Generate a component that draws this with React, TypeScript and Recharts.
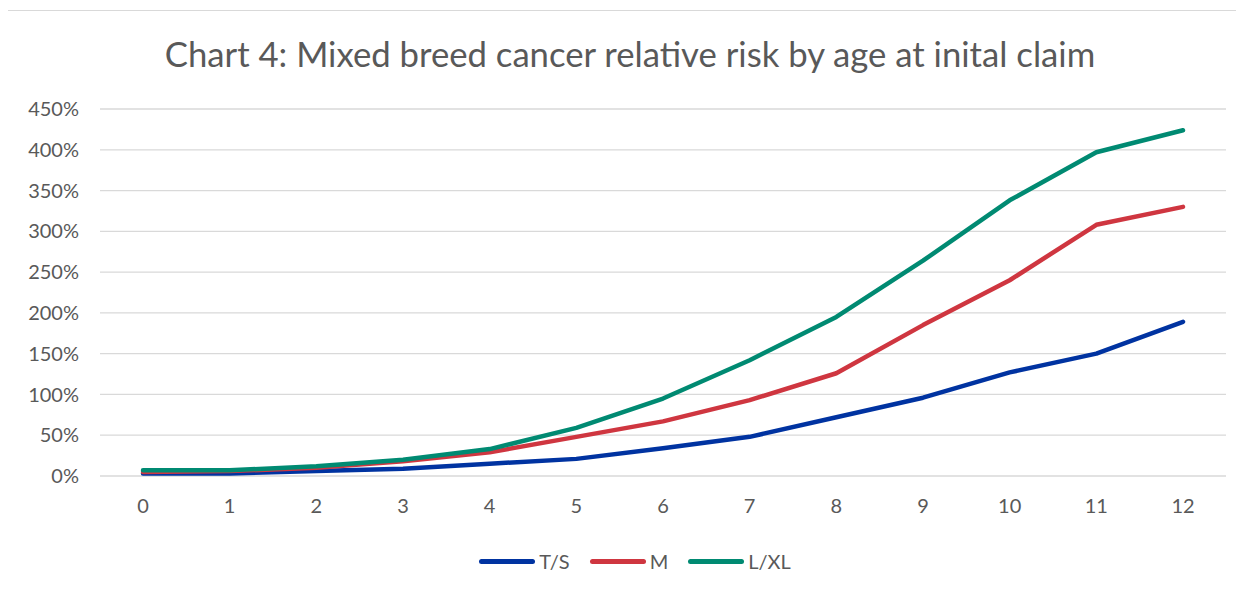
import React from "react";
import {
  LineChart,
  Line,
  XAxis,
  YAxis,
  CartesianGrid,
  Legend,
} from "recharts";

const ages = [0, 1, 2, 3, 4, 5, 6, 7, 8, 9, 10, 11, 12];
const toySmall = [3, 3, 6, 9, 15, 21, 34, 48, 72, 96, 127, 150, 189];
const medium = [5, 6, 10, 18, 29, 48, 67, 93, 126, 185, 240, 308, 330];
const largeXL = [7, 7, 12, 20, 33, 59, 95, 142, 195, 264, 338, 397, 424];
const yTicks = [0, 50, 100, 150, 200, 250, 300, 350, 400, 450];

const series = [
  { key: "ts", name: "T/S", color: "#0033a1", values: toySmall },
  { key: "m", name: "M", color: "#cf3640", values: medium },
  { key: "lxl", name: "L/XL", color: "#008a72", values: largeXL },
];

const data = ages.map((age, i) => {
  const row: Record<string, number> = { age };
  series.forEach((s) => {
    row[s.key] = s.values[i];
  });
  return row;
});

const FONT = "Lato, 'Open Sans', sans-serif";
const TEXT = "#595959";

function LegendContent() {
  return (
    <div
      style={{
        display: "flex",
        justifyContent: "center",
        alignItems: "center",
        gap: 20,
        paddingLeft: 36,
        fontFamily: FONT,
        fontSize: 20,
        color: TEXT,
      }}
    >
      {series.map((s) => (
        <div key={s.key} style={{ display: "flex", alignItems: "center" }}>
          <div
            style={{
              width: 56,
              height: 5,
              borderRadius: 3,
              background: s.color,
              marginRight: 4,
            }}
          />
          <span>{s.name}</span>
        </div>
      ))}
    </div>
  );
}

export default function App() {
  return (
    <div
      style={{
        position: "relative",
        width: 1234,
        height: 590,
        marginLeft: -1,
        marginTop: 2,
        border: "1px solid #d9d9d9",
        background: "#fff",
      }}
    >
      <div
        style={{
          position: "absolute",
          left: 10,
          right: 0,
          top: 22,
          textAlign: "center",
          fontFamily: FONT,
          fontSize: 34.7,
          color: TEXT,
        }}
      >
        Chart 4: Mixed breed cancer relative risk by age at inital claim
      </div>
      <LineChart
        width={1234}
        height={590}
        data={data}
        margin={{ top: 98, right: 16, left: 0, bottom: 28 }}
      >
        <CartesianGrid vertical={false} stroke="#d9d9d9" strokeWidth={1.3} />
        <XAxis
          dataKey="age"
          padding={{ left: 43, right: 43 }}
          axisLine={false}
          tickLine={false}
          tickSize={0}
          tickMargin={23}
          height={73}
          tick={{ fill: TEXT, fontSize: 20, fontFamily: FONT }}
        />
        <YAxis
          domain={[0, 450]}
          ticks={yTicks}
          tickFormatter={(v: number) => `${v}%`}
          axisLine={false}
          tickLine={false}
          tickSize={0}
          tickMargin={21}
          width={92}
          tick={{ fill: TEXT, fontSize: 20, fontFamily: FONT }}
        />
        <Legend verticalAlign="bottom" content={<LegendContent />} />
        {series.map((s) => (
          <Line
            key={s.key}
            dataKey={s.key}
            name={s.name}
            stroke={s.color}
            strokeWidth={4.5}
            strokeLinecap="round"
            strokeLinejoin="round"
            dot={false}
            isAnimationActive={false}
          />
        ))}
      </LineChart>
    </div>
  );
}
